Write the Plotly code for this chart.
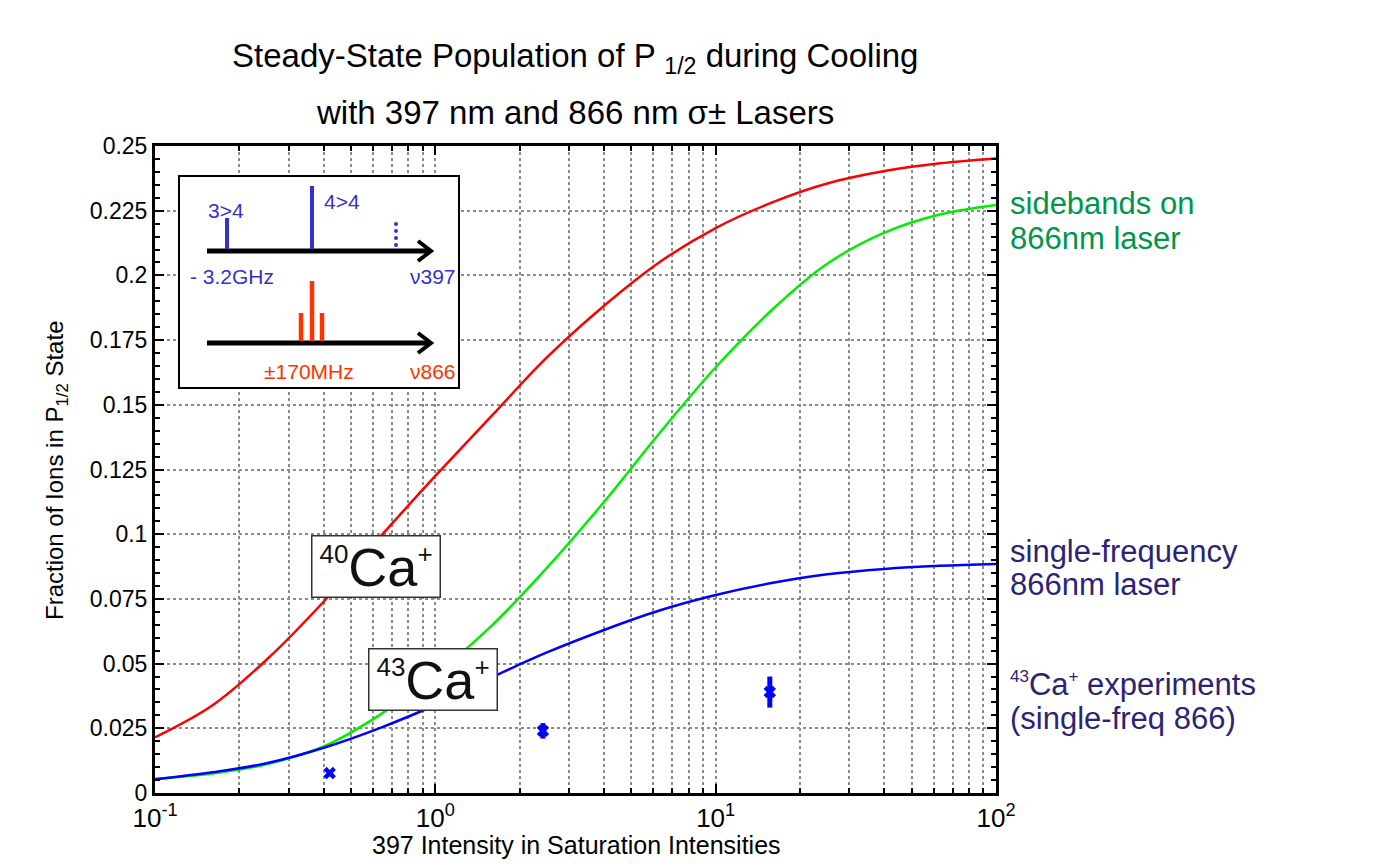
import plotly.graph_objects as go

# ---------------- data ----------------
intensity = [0.1, 0.16, 0.25, 0.4, 0.63, 1, 1.6, 2.5, 4, 6.3, 10, 16, 25, 40, 63, 100]
pop_ca40 = [0.0215, 0.0338, 0.0515, 0.074, 0.0985, 0.1225, 0.1461, 0.1683, 0.1883, 0.2051,
            0.2183, 0.2283, 0.2355, 0.2403, 0.2433, 0.2452]
pop_sidebands = [0.0054, 0.0075, 0.0111, 0.0180, 0.0300, 0.0458, 0.0650, 0.0870, 0.1125, 0.1390,
                 0.1645, 0.1870, 0.2045, 0.2165, 0.2235, 0.2272]
pop_single = [0.0053, 0.0080, 0.0115, 0.0175, 0.0250, 0.0340, 0.0448, 0.0543, 0.0630, 0.0705,
              0.0765, 0.0812, 0.0845, 0.0866, 0.0878, 0.0885]

exp_intensity = [0.42, 2.42, 15.6]
exp_pop = [0.0077, 0.024, 0.039]
exp_err = [0.0, 0.003, 0.006]

x_tickvals = [0.1, 1, 10, 100]
x_ticktext = ["10<sup>-1</sup>", "10<sup>0</sup>", "10<sup>1</sup>", "10<sup>2</sup>"]
x_minor_vals = [m * d for d in (0.1, 1, 10) for m in range(2, 10)]
y_tickvals = [0, 0.025, 0.05, 0.075, 0.1, 0.125, 0.15, 0.175, 0.2, 0.225, 0.25]
y_ticktext = ["0", "0.025", "0.05", "0.075", "0.1", "0.125", "0.15", "0.175", "0.2", "0.225", "0.25"]

# ---------------- layout helpers ----------------
L, R, T, B = 155, 996, 146, 793
W, H = 1400, 864
FONT = "Liberation Sans, Arial, Helvetica, sans-serif"


def P(px, py):
    return (px - L) / (R - L), (B - py) / (B - T)


fig = go.Figure()

fig.add_trace(go.Scatter(x=intensity, y=pop_ca40, mode="lines",
                         line=dict(color="#ff0000", width=2.5, shape="spline", smoothing=1.0),
                         hoverinfo="skip"))
fig.add_trace(go.Scatter(x=intensity, y=pop_sidebands, mode="lines",
                         line=dict(color="#00ee00", width=2.5, shape="spline", smoothing=1.0),
                         hoverinfo="skip"))
fig.add_trace(go.Scatter(x=intensity, y=pop_single, mode="lines",
                         line=dict(color="#0000ff", width=2.5, shape="spline", smoothing=1.0),
                         hoverinfo="skip"))
fig.add_trace(go.Scatter(x=exp_intensity, y=exp_pop, mode="markers",
                         marker=dict(symbol="x", size=11, color="#0000ff",
                                     line=dict(width=0)),
                         error_y=dict(type="data", array=exp_err, visible=True,
                                      color="#0000ff", thickness=5, width=0)))

shapes = []
annotations = []


def ann(px, py, text, size, color="black", xanchor="center", yanchor="middle", **kw):
    x, y = P(px, py)
    annotations.append(dict(x=x, y=y, xref="paper", yref="paper", text=text, showarrow=False,
                            xanchor=xanchor, yanchor=yanchor,
                            font=dict(size=size, color=color, family=FONT), **kw))


def line(x0, y0, x1, y1, color, width):
    a, b = P(x0, y0)
    c, d = P(x1, y1)
    shapes.append(dict(type="line", xref="paper", yref="paper", x0=a, y0=b, x1=c, y1=d,
                       line=dict(color=color, width=width)))


def path(points, color, width):
    s = ""
    for i, (px, py) in enumerate(points):
        x, y = P(px, py)
        s += ("M" if i == 0 else " L") + f" {x:.5f} {y:.5f}"
    shapes.append(dict(type="path", xref="paper", yref="paper", path=s,
                       line=dict(color=color, width=width)))


# inset box
x0, y0 = P(179, 388)
x1, y1 = P(459, 176)
shapes.append(dict(type="rect", xref="paper", yref="paper", x0=x0, y0=y0, x1=x1, y1=y1,
                   fillcolor="white", line=dict(color="black", width=2)))
BLUE_I = "#3333cc"
RED_I = "#ff3300"
# arrows
line(207, 251, 430, 251, "black", 5)
path([(418, 241), (431, 251), (418, 261)], "black", 4)
line(207, 343, 430, 343, "black", 5)
path([(418, 333), (431, 343), (418, 353)], "black", 4)
# blue lines
line(227, 249, 227, 218, BLUE_I, 4)
line(312, 249, 312, 186, BLUE_I, 4)
for yy in (224, 231, 238, 245):
    cx, cy = P(396, yy)
    dx, dy = 2 / (R - L), 2 / (B - T)
    shapes.append(dict(type="circle", xref="paper", yref="paper", x0=cx - dx, x1=cx + dx,
                       y0=cy - dy, y1=cy + dy, fillcolor=BLUE_I, line=dict(width=0)))
# red lines
line(301, 341, 301, 313, RED_I, 4.5)
line(312, 341, 312, 281, RED_I, 4.5)
line(322, 341, 322, 313, RED_I, 4.5)
ann(226, 210, "3&gt;4", 21, BLUE_I)
ann(342, 201, "4&gt;4", 21, BLUE_I)
ann(232, 276, "- 3.2GHz", 21, BLUE_I)
ann(458, 276, "ν397", 21, BLUE_I, xanchor="right")
ann(309, 371, "±170MHz", 21, RED_I)
ann(458, 371, "ν866", 21, RED_I, xanchor="right")

# isotope label boxes
ca_sup = '<sup><span style="font-size:26px">{}</span></sup>'
ann(376, 566, ca_sup.format("40") + "Ca" + ca_sup.format("+"), 54, "#111111",
    bordercolor="#333333", borderwidth=1.5, bgcolor="white", borderpad=0, width=127, height=60)
ann(433, 679, ca_sup.format("43") + "Ca" + ca_sup.format("+"), 54, "#111111",
    bordercolor="#333333", borderwidth=1.5, bgcolor="white", borderpad=0, width=127, height=60)

# right-hand labels
GREEN_T = "#00964a"
NAVY = "#2b2475"
small_sup = '<sup><span style="font-size:17px">{}</span></sup>'
ann(1008, 203, "sidebands on", 31, GREEN_T, xanchor="left")
ann(1008, 238, "866nm laser", 31, GREEN_T, xanchor="left")
ann(1008, 551, "single-frequency", 31, NAVY, xanchor="left")
ann(1008, 584, "866nm laser", 31, NAVY, xanchor="left")
ann(1008, 684, small_sup.format("43") + "Ca" + small_sup.format("+") + " experiments", 31, NAVY,
    xanchor="left")
ann(1008, 718, "(single-freq 866)", 31, NAVY, xanchor="left")

# titles
ann(575, 58, "Steady-State Population of P <sub>1/2</sub> during Cooling", 33)
ann(575, 112, "with 397 nm and 866 nm σ± Lasers", 33)
ann(576, 845, "397 Intensity in Saturation Intensities", 25)
ann(56, 470, "Fraction of Ions in P<sub>1/2</sub> State", 24, textangle=-90)

fig.update_layout(
    width=W, height=H,
    margin=dict(l=L, r=W - R, t=T, b=H - B, pad=0),
    paper_bgcolor="white", plot_bgcolor="white",
    showlegend=False,
    font=dict(family=FONT, color="black"),
    shapes=shapes, annotations=annotations,
    xaxis=dict(type="log", range=[-1, 2], tickmode="array", tickvals=x_tickvals,
               ticktext=x_ticktext, ticks="inside", ticklen=9, tickwidth=2, tickcolor="black",
               showline=True, linewidth=3, linecolor="black", mirror="ticks",
               showgrid=True, gridcolor="#8c8c8c", gridwidth=1.5, griddash="dot",
               zeroline=False, tickfont=dict(size=26, family=FONT),
               minor=dict(tickmode="array", tickvals=x_minor_vals, ticks="inside", ticklen=5,
                          tickwidth=2, tickcolor="black", showgrid=True,
                          gridcolor="#8c8c8c", gridwidth=1.5, griddash="dot")),
    yaxis=dict(range=[0, 0.25], tickmode="array", tickvals=y_tickvals, ticktext=y_ticktext,
               ticks="inside", ticklen=9, tickwidth=2, tickcolor="black",
               showline=True, linewidth=3, linecolor="black", mirror="ticks",
               showgrid=True, gridcolor="#8c8c8c", gridwidth=1.5, griddash="dot",
               zeroline=False, tickfont=dict(size=23, family=FONT),
               minor=dict(dtick=0.005, tick0=0, ticks="inside", ticklen=5, tickwidth=2,
                          tickcolor="black", showgrid=False)),
)

fig.write_html("out.html")
